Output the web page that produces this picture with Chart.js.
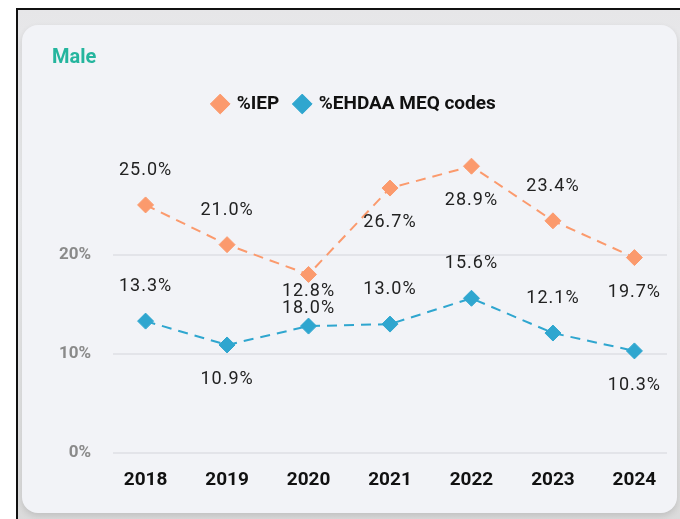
<!DOCTYPE html>
<html>
<head>
<meta charset="utf-8">
<script src="https://cdn.jsdelivr.net/npm/chart.js@4.4.1/dist/chart.umd.min.js"></script>
<style>
  html, body { margin: 0; padding: 0; background: #fff; }
  body { width: 680px; height: 519px; position: relative; overflow: hidden; }
  .frame {
    position: absolute; left: 16px; top: 8px; width: 680px; height: 520px;
    border-left: 2px solid #111; border-top: 2px solid #111;
    background: linear-gradient(#e6e6e8, #eeeff1 40%, #dadada);
  }
  .card {
    position: absolute; left: 22px; top: 25px; width: 655px; height: 488px;
    border-radius: 16px; background: #f2f3f7;
    box-shadow: 0 3px 6px rgba(0,0,0,0.12);
  }
  #chart { position: absolute; left: 0; top: 0; }
</style>
</head>
<body>
<div class="frame"></div>
<div class="card"></div>
<canvas id="chart" width="680" height="519"></canvas>
<script>
  // --- Data ---
  const years = ['2018', '2019', '2020', '2021', '2022', '2023', '2024'];
  const iepValues = [25.0, 21.0, 18.0, 26.7, 28.9, 23.4, 19.7];
  const ehdaaValues = [13.3, 10.9, 12.8, 13.0, 15.6, 12.1, 10.3];
  const yTicks = [0, 10, 20];
  // which side of the point each value label sits on
  const iepLabelSide = ['top', 'top', 'bottom', 'bottom', 'bottom', 'top', 'bottom'];
  const ehdaaLabelSide = ['top', 'bottom', 'top', 'top', 'top', 'top', 'bottom'];

  const ORANGE = '#fb9a6d';
  const BLUE = '#2fa6cf';

  // value labels above / below each point
  const valueLabels = {
    id: 'valueLabels',
    afterDatasetsDraw(chart) {
      const ctx = chart.ctx;
      ctx.save();
      ctx.font = '400 18px Roboto';
      ctx.letterSpacing = '1px';
      ctx.fillStyle = '#222';
      ctx.textAlign = 'center';
      ctx.textBaseline = 'middle';
      chart.data.datasets.forEach((ds, di) => {
        const meta = chart.getDatasetMeta(di);
        meta.data.forEach((pt, i) => {
          const dy = ds.labelSide[i] === 'top' ? -34.5 : 34.5;
          ctx.fillText(ds.data[i].y.toFixed(1) + '%', pt.x, pt.y + dy);
        });
      });
      ctx.restore();
    }
  };

  // nudge legend a bit left so it sits where the original does
  const legendShift = {
    id: 'legendShift',
    afterLayout(chart) {
      chart.legend.left -= 5;
      chart.legend.right -= 5;
    }
  };

  const toPoints = vals => vals.map((v, i) => ({ x: i, y: v }));

  new Chart(document.getElementById('chart'), {
    type: 'line',
    data: {
      datasets: [{
        label: '%IEP',
        data: toPoints(iepValues),
        labelSide: iepLabelSide,
        borderColor: ORANGE,
        backgroundColor: ORANGE,
        borderWidth: 2,
        borderDash: [10, 7],
        pointStyle: 'rectRot',
        pointRadius: 8,
        pointBorderWidth: 1,
        tension: 0
      }, {
        label: '%EHDAA MEQ codes',
        data: toPoints(ehdaaValues),
        labelSide: ehdaaLabelSide,
        borderColor: BLUE,
        backgroundColor: BLUE,
        borderWidth: 2,
        borderDash: [10, 7],
        pointStyle: 'rectRot',
        pointRadius: 8,
        pointBorderWidth: 1,
        tension: 0
      }]
    },
    options: {
      responsive: false,
      animation: false,
      layout: { padding: { top: 36, left: 52, right: 13, bottom: 19 } },
      plugins: {
        title: {
          display: true,
          text: 'Male',
          align: 'start',
          color: '#25b59e',
          font: { family: 'Roboto', size: 20, weight: 'bold' },
          padding: { top: 10, bottom: 8.5 }
        },
        legend: {
          position: 'top',
          labels: {
            usePointStyle: true,
            boxWidth: 14,
            boxHeight: 14,
            padding: 16,
            color: '#111',
            font: { family: 'Roboto', size: 19, weight: 'bold' }
          }
        },
        tooltip: { enabled: false }
      },
      scales: {
        x: {
          type: 'linear',
          min: -0.4,
          max: 6.4,
          afterBuildTicks: scale => { scale.ticks = years.map((_, i) => ({ value: i })); },
          ticks: {
            callback: v => years[v],
            color: '#111',
            padding: 8,
            maxRotation: 0,
            font: { family: 'Roboto', size: 19, weight: 'bold' }
          },
          grid: { display: false },
          border: { display: false }
        },
        y: {
          min: 0,
          max: 33.2,
          afterBuildTicks: scale => { scale.ticks = yTicks.map(v => ({ value: v })); },
          afterFit: scale => { scale.width = 61; },
          ticks: {
            callback: v => v + '%',
            color: '#8a8a8a',
            padding: 22,
            font: { family: 'Roboto', size: 17, weight: 'bold' }
          },
          grid: { color: '#e3e4e9', lineWidth: 2, drawTicks: false },
          border: { display: false }
        }
      }
    },
    plugins: [valueLabels, legendShift]
  });
</script>
</body>
</html>
